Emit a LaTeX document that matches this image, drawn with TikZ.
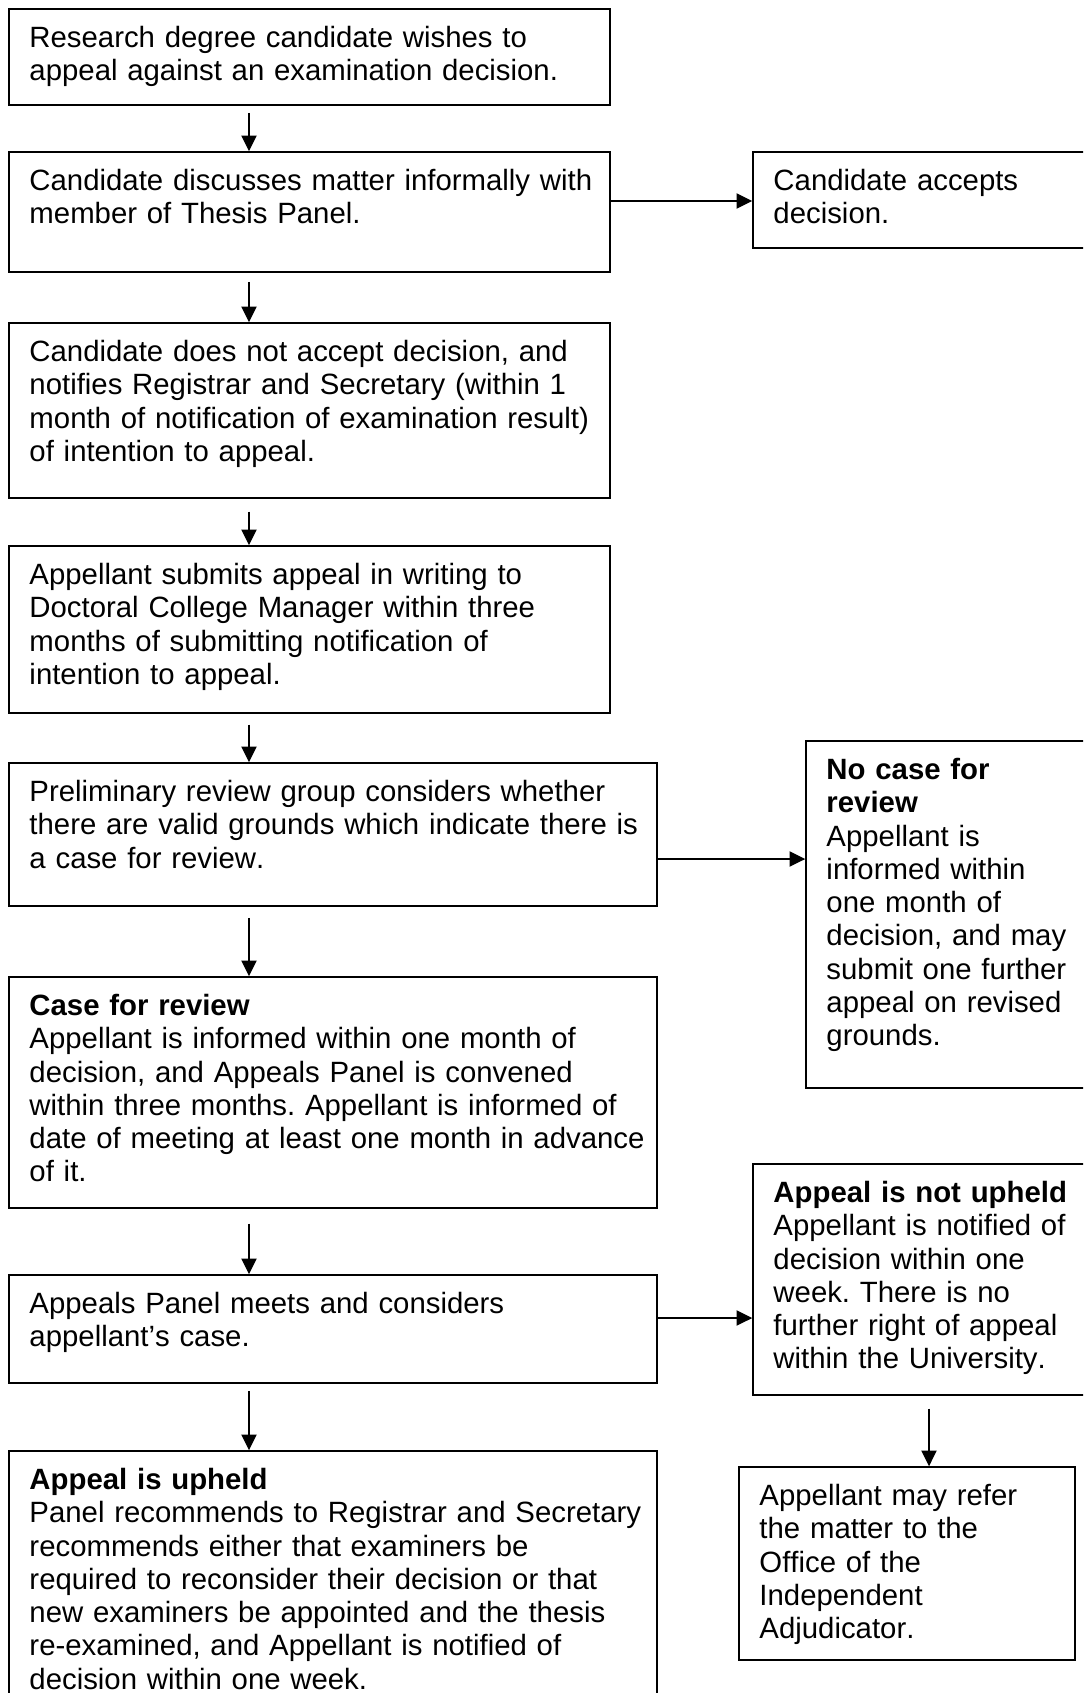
\documentclass[tikz,border=0pt]{standalone}
\usepackage{fontspec}
\setmainfont[Kerning=Off]{Liberation Sans}
\usetikzlibrary{fit,arrows.meta}
\frenchspacing
\tikzset{
  boxstyle/.style={draw, line width=0.6pt, inner sep=0pt},
  txt/.style={anchor=north west, inner sep=0pt, align=left, text width=300pt,
    font=\fontsize{12}{13.62}\selectfont},
  arr/.style={-{Triangle[length=6.4pt,width=6.2pt]}, line width=0.6pt},
}
\newcommand\flowbox[6]{%
  \coordinate (#1nw) at (#2,#3);
  \coordinate (#1se) at (#4,#5);
  \node[boxstyle, fit=(#1nw)(#1se)] (#1) {};
  \node[txt] (#1t) at ([shift={(20,14.6)}]#1nw) {\strut #6};
}
\begin{document}
\begin{tikzpicture}[x=0.4089pt, y=-0.4089pt]
\useasboundingbox (0,0) rectangle (1083,1693);
\clip (0,0) rectangle (1083,1693);

\flowbox{b1}{9}{9}{610}{105}{Research degree candidate wishes to\\appeal against an examination decision.}
\flowbox{b2}{9}{152}{610}{272}{Candidate discusses matter informally with\\member of Thesis Panel.}
\flowbox{a}{753}{152}{1090}{248}{Candidate accepts\\decision.}
\flowbox{b3}{9}{323}{610}{498}{Candidate does not accept decision, and\\notifies Registrar and Secretary (within 1\\month of notification of examination result)\\of intention to appeal.}
\flowbox{b4}{9}{546}{610}{713}{Appellant submits appeal in writing to\\Doctoral College Manager within three\\months of submitting notification of\\intention to appeal.}
\flowbox{b5}{9}{763}{657}{906}{Preliminary review group considers whether\\there are valid grounds which indicate there is\\a case for review.}
\flowbox{n}{806}{741}{1090}{1088}{\textbf{No case for}\\\textbf{review}\\Appellant is\\informed within\\one month of\\decision, and may\\submit one further\\appeal on revised\\grounds.}
\flowbox{b6}{9}{977}{657}{1208}{\textbf{Case for review}\\Appellant is informed within one month of\\decision, and Appeals Panel is convened\\within three months. Appellant is informed of\\date of meeting at least one month in advance\\of it.}
\flowbox{b7}{9}{1275}{657}{1383}{Appeals Panel meets and considers\\appellant’s case.}
\flowbox{u}{753}{1164}{1090}{1395}{\textbf{Appeal is not upheld}\\Appellant is notified of\\decision within one\\week. There is no\\further right of appeal\\within the University.}
\flowbox{b8}{9}{1451}{657}{1720}{\textbf{Appeal is upheld}\\Panel recommends to Registrar and Secretary\\recommends either that examiners be\\required to reconsider their decision or that\\new examiners be appointed and the thesis\\re-examined, and Appellant is notified of\\decision within one week.}
\flowbox{o}{739}{1467}{1075}{1660}{Appellant may refer\\the matter to the\\Office of the\\Independent\\Adjudicator.}

\coordinate (lx) at (249,0);
\coordinate (rx) at (929,0);
\coordinate (ya) at (0,201);
\coordinate (yn) at (0,859);
\coordinate (yu) at (0,1318);

\draw[arr, shorten <=2.9pt] (b1.south -| lx) -- (b2.north -| lx);
\draw[arr, shorten <=3.7pt] (b2.south -| lx) -- (b3.north -| lx);
\draw[arr, shorten <=5.3pt] (b3.south -| lx) -- (b4.north -| lx);
\draw[arr, shorten <=4.5pt] (b4.south -| lx) -- (b5.north -| lx);
\draw[arr, shorten <=4.5pt] (b5.south -| lx) -- (b6.north -| lx);
\draw[arr, shorten <=6.1pt] (b6.south -| lx) -- (b7.north -| lx);
\draw[arr, shorten <=2.9pt] (b7.south -| lx) -- (b8.north -| lx);
\draw[arr, shorten <=5.3pt] (u.south -| rx) -- (o.north -| rx);

\draw[arr] (b2.east |- ya) -- (a.west |- ya);
\draw[arr] (b5.east |- yn) -- (n.west |- yn);
\draw[arr] (b7.east |- yu) -- (u.west |- yu);
\end{tikzpicture}
\end{document}
